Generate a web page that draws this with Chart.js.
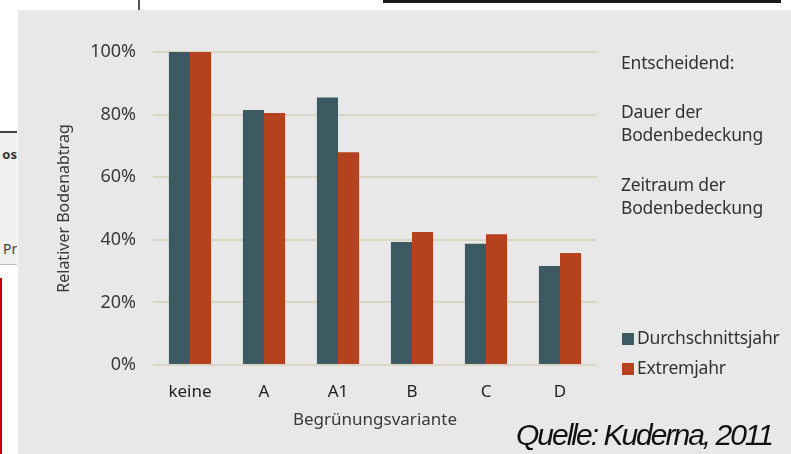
<!DOCTYPE html>
<html>
<head>
<meta charset="utf-8">
<script src="https://cdn.jsdelivr.net/npm/chart.js@4.4.1/dist/chart.umd.min.js"></script>
<style>
  body { margin: 0; background: #fff; width: 791px; height: 454px; overflow: hidden; position: relative; font-family: "Noto Sans", sans-serif; }
  #panel { position: absolute; left: 18px; top: 10px; width: 773px; height: 444px; background: #e8e8e8; }
  #chart { position: absolute; left: 0; top: 0; }
  .note { position: absolute; left: 621px; font-size: 17.5px; color: #333; line-height: 23px; letter-spacing: -0.2px; }
  .legend-item { position: absolute; left: 622px; font-size: 17.5px; color: #333; line-height: 20px; letter-spacing: -0.2px; white-space: nowrap; }
  .legend-item span { display: inline-block; width: 12px; height: 12px; margin-right: 3px; vertical-align: -1px; }
  #source { position: absolute; left: 516px; top: 420px; font-family: "Liberation Sans", Arial, sans-serif; font-style: italic; font-size: 30px; line-height: 30px; letter-spacing: -2px; color: #111; white-space: nowrap; }
  /* bits of the surrounding page that show in the screenshot */
  #topBar { position: absolute; left: 383px; top: 0; width: 398px; height: 3px; background: #1a1a1a; }
  #topTick { position: absolute; left: 138px; top: 0; width: 2px; height: 10px; background: #555; }
  #sideBox { position: absolute; left: 0; top: 131px; width: 17px; height: 131px; background: #f0f0f0; border-top: 2px solid #444; border-bottom: 1px solid #bbb; overflow: hidden; }
  #sideBox .a { position: absolute; right: 0; top: 12px; font-size: 13px; font-weight: bold; color: #333; }
  #sideBox .b { position: absolute; left: 3px; top: 106px; font-size: 14px; color: #444; }
  #redLine { position: absolute; left: 0; top: 278px; width: 2px; height: 176px; background: #c00000; }
</style>
</head>
<body>
<div id="topTick"></div>
<div id="topBar"></div>
<div id="sideBox"><div class="a">os</div><div class="b">Pr</div></div>
<div id="redLine"></div>
<div id="panel"></div>
<canvas id="chart" width="791" height="454"></canvas>
<div class="note" style="top:51px">Entscheidend:</div>
<div class="note" style="top:100px">Dauer der<br>Bodenbedeckung</div>
<div class="note" style="top:173px">Zeitraum der<br>Bodenbedeckung</div>
<div id="legend"></div>
<div id="source">Quelle: Kuderna, 2011</div>
<script>
const categories = ['keine', 'A', 'A1', 'B', 'C', 'D'];
const seriesNames = ['Durchschnittsjahr', 'Extremjahr'];
const durchschnitt = [100, 81.5, 85.5, 39.3, 38.7, 31.6];
const extrem = [100, 80.5, 68, 42.5, 41.8, 35.8];
const yTickLabels = ['0%', '20%', '40%', '60%', '80%', '100%'];
const colors = ['#3d5a62', '#b5411f'];

// Legend on the right, built from the series
const legendEl = document.getElementById('legend');
const legendTops = [327, 357];
seriesNames.forEach(function(name, i) {
    const item = document.createElement('div');
    item.className = 'legend-item';
    item.style.top = legendTops[i] + 'px';
    item.innerHTML = '<span style="background:' + colors[i] + '"></span>' + name;
    legendEl.appendChild(item);
});

Chart.defaults.font.family = '"Noto Sans", sans-serif';

const ctx = document.getElementById('chart').getContext('2d');
const chart = new Chart(ctx, {
    type: 'bar',
    data: {
        labels: categories,
        datasets: [{
            label: seriesNames[0],
            data: durchschnitt,
            backgroundColor: colors[0],
            barPercentage: 1,
            categoryPercentage: 0.57
        }, {
            label: seriesNames[1],
            data: extrem,
            backgroundColor: colors[1],
            barPercentage: 1,
            categoryPercentage: 0.57
        }]
    },
    options: {
        responsive: false,
        animation: false,
        layout: {
            padding: { left: 40, top: 52, right: 194, bottom: 20 }
        },
        scales: {
            y: {
                min: 0,
                max: 100,
                afterFit: function(scale) { scale.width = 113; },
                ticks: {
                    stepSize: 20,
                    color: '#3a3a3a',
                    font: { size: 18 },
                    padding: 17,
                    callback: function(value) { return yTickLabels[value / 20]; }
                },
                grid: {
                    color: '#d9d5c2',
                    lineWidth: 2,
                    drawTicks: false
                },
                border: { display: false },
                title: {
                    display: true,
                    text: 'Relativer Bodenabtrag',
                    color: '#3a3a3a',
                    font: { size: 16 },
                    padding: { top: 15, bottom: 0 }
                }
            },
            x: {
                afterFit: function(scale) { scale.height = 69; },
                ticks: {
                    color: '#222',
                    font: { size: 17 },
                    padding: 17
                },
                grid: { display: false, drawTicks: false },
                border: { display: false },
                title: {
                    display: true,
                    text: 'Begrünungsvariante',
                    color: '#3a3a3a',
                    font: { size: 17 },
                    padding: { top: 0, bottom: 4 }
                }
            }
        },
        plugins: {
            legend: { display: false },
            tooltip: { enabled: false }
        }
    }
});
</script>
</body>
</html>
